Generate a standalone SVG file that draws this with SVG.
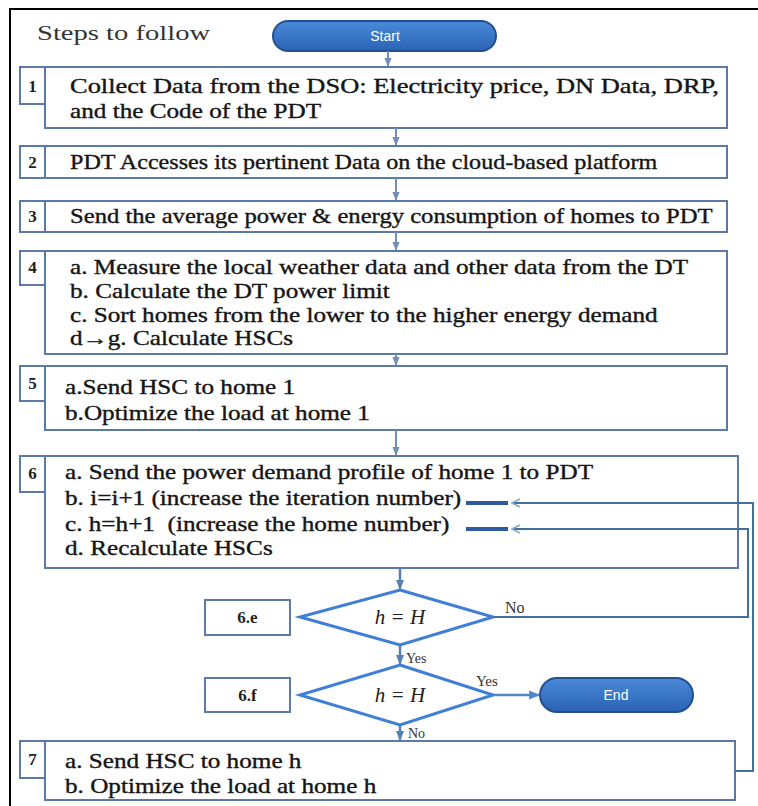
<svg xmlns="http://www.w3.org/2000/svg" width="758" height="806" viewBox="0 0 758 806">
<defs>
  <linearGradient id="pill" x1="0" y1="0" x2="0" y2="1">
    <stop offset="0" stop-color="#4a8ad8"/>
    <stop offset="1" stop-color="#2a62b4"/>
  </linearGradient>
  <marker id="ah" viewBox="0 0 10 10" refX="9" refY="5" markerWidth="9" markerHeight="9" markerUnits="userSpaceOnUse" orient="auto">
    <path d="M0,1 L10,5 L0,9 z" fill="#6f8fb4"/>
  </marker>
  <marker id="ahd" viewBox="0 0 10 10" refX="9" refY="5" markerWidth="10" markerHeight="10" markerUnits="userSpaceOnUse" orient="auto">
    <path d="M0,1 L10,5 L0,9 z" fill="#5a80ad"/>
  </marker>
  <marker id="ahe" viewBox="0 0 10 10" refX="9" refY="5" markerWidth="11" markerHeight="11" markerUnits="userSpaceOnUse" orient="auto">
    <path d="M0,1 L10,5 L0,9 z" fill="#4f86cc"/>
  </marker>
  <marker id="open" viewBox="0 0 10 10" refX="9" refY="5" markerWidth="10" markerHeight="10" markerUnits="userSpaceOnUse" orient="auto">
    <path d="M1,1 L9,5 L1,9" fill="none" stroke="#8aa6c8" stroke-width="1.6"/>
  </marker>
</defs>
<style>
  .box{fill:#ffffff;stroke:#5b79a9;stroke-width:2}
  .t{font-family:"Liberation Serif",serif;font-size:20px;fill:#151515;stroke:#151515;stroke-width:0.35}
  .n{font-family:"Liberation Serif",serif;font-size:17px;font-weight:bold;fill:#1e1e1e;text-anchor:middle}
  .c{fill:none;stroke:#6f8fb4;stroke-width:2}
  .cd{fill:none;stroke:#5a80ad;stroke-width:2.5}
  .loop{fill:none;stroke:#41709f;stroke-width:2}
  .thick{stroke:#2d5aa0;stroke-width:4}
  .dia{fill:#ffffff;stroke:#3f7fd6;stroke-width:3}
  .pill{fill:url(#pill);stroke:#24508f;stroke-width:2}
  .pt{font-family:"Liberation Sans",sans-serif;font-size:14px;fill:#ffffff;text-anchor:middle}
  .hh{font-family:"Liberation Serif",serif;font-size:21px;font-style:italic;fill:#222;text-anchor:middle}
  .lbl{font-family:"Liberation Serif",serif;fill:#333}
</style>
<rect x="0" y="0" width="758" height="806" fill="#ffffff"/>
<path d="M10 806 V9 H758" fill="none" stroke="#000" stroke-width="2"/>

<g id="title">
  <g transform="matrix(1.3 0 0 1 37 0)">
    <text x="0" y="40" font-family="Liberation Serif, serif" font-size="22" fill="#333">Steps to follow</text>
  </g>
</g>

<g id="start">
  <rect class="pill" x="273" y="21" width="223" height="30" rx="15"/>
  <text class="pt" x="385" y="41">Start</text>
</g>

<g id="step1">
  <rect class="box" x="45" y="67" width="682" height="61"/>
  <rect class="box" x="20" y="67" width="25" height="37"/>
  <text class="n" x="32.5" y="92">1</text>
  <g transform="matrix(1.26 0 0 1 70 0)">
    <text class="t" x="0" y="93" textLength="515" lengthAdjust="spacingAndGlyphs">Collect Data from the DSO: Electricity price, DN Data, DRP,</text>
    <text class="t" x="0" y="118">and the Code of the PDT</text>
  </g>
</g>

<g id="step2">
  <rect class="box" x="45" y="146" width="682" height="32"/>
  <rect class="box" x="20" y="146" width="25" height="32"/>
  <text class="n" x="32.5" y="168">2</text>
  <g transform="matrix(1.26 0 0 1 70 0)">
    <text class="t" x="0" y="169" textLength="466" lengthAdjust="spacingAndGlyphs">PDT Accesses its pertinent Data on the cloud-based platform</text>
  </g>
</g>

<g id="step3">
  <rect class="box" x="45" y="201" width="682" height="31"/>
  <rect class="box" x="20" y="201" width="25" height="31"/>
  <text class="n" x="32.5" y="222">3</text>
  <g transform="matrix(1.26 0 0 1 70 0)">
    <text class="t" x="0" y="223" textLength="510" lengthAdjust="spacingAndGlyphs">Send the average power &amp; energy consumption of homes to PDT</text>
  </g>
</g>

<g id="step4">
  <rect class="box" x="45" y="251" width="682" height="103"/>
  <rect class="box" x="20" y="251" width="25" height="34"/>
  <text class="n" x="32.5" y="273">4</text>
  <g transform="matrix(1.26 0 0 1 70 0)">
    <text class="t" x="0" y="274">a. Measure the local weather data and other data from the DT</text>
    <text class="t" x="0" y="298">b. Calculate the DT power limit</text>
    <text class="t" x="0" y="322">c. Sort homes from the lower to the higher energy demand</text>
    <text class="t" x="0" y="345">d→g. Calculate HSCs</text>
  </g>
</g>

<g id="step5">
  <rect class="box" x="45" y="366" width="682" height="64"/>
  <rect class="box" x="20" y="366" width="25" height="35"/>
  <text class="n" x="32.5" y="389">5</text>
  <g transform="matrix(1.26 0 0 1 65 0)">
    <text class="t" x="0" y="394">a.Send HSC to home 1</text>
    <text class="t" x="0" y="420">b.Optimize the load at home 1</text>
  </g>
</g>

<g id="step6">
  <rect class="box" x="45" y="456" width="693" height="112"/>
  <rect class="box" x="20" y="456" width="25" height="36"/>
  <text class="n" x="32.5" y="479">6</text>
  <g transform="matrix(1.26 0 0 1 65 0)">
    <text class="t" x="0" y="479">a. Send the power demand profile of home 1 to PDT</text>
    <text class="t" x="0" y="505">b. i=i+1 (increase the iteration number)</text>
    <text class="t" x="0" y="531" xml:space="preserve">c. h=h+1  (increase the home number)</text>
    <text class="t" x="0" y="555">d. Recalculate HSCs</text>
  </g>
</g>

<g id="box6e">
  <rect class="box" x="205" y="600" width="85" height="35"/>
  <text class="n" x="247.5" y="623">6.e</text>
</g>

<g id="dec1">
  <polygon class="dia" points="400,590 493,617 400,645 300,617"/>
  <text class="hh" x="400" y="624">h = H</text>
</g>

<g id="box6f">
  <rect class="box" x="205" y="678" width="85" height="34"/>
  <text class="n" x="247.5" y="701">6.f</text>
</g>

<g id="dec2">
  <polygon class="dia" points="400,665 493,695 400,725 300,695"/>
  <text class="hh" x="400" y="702">h = H</text>
</g>

<g id="end">
  <rect class="pill" x="540" y="678" width="153" height="34" rx="17"/>
  <text class="pt" x="616" y="700">End</text>
</g>

<g id="step7">
  <rect class="box" x="45" y="741" width="690" height="59"/>
  <rect class="box" x="20" y="741" width="25" height="37"/>
  <text class="n" x="32.5" y="765">7</text>
  <g transform="matrix(1.26 0 0 1 65 0)">
    <text class="t" x="0" y="768">a. Send HSC to home h</text>
    <text class="t" x="0" y="793">b. Optimize the load at home h</text>
  </g>
</g>

<g id="connectors">
  <line class="c" x1="388" y1="51" x2="388" y2="66" marker-end="url(#ah)"/>
  <line class="c" x1="396" y1="128" x2="396" y2="145" marker-end="url(#ah)"/>
  <line class="c" x1="396" y1="178" x2="396" y2="200" marker-end="url(#ah)"/>
  <line class="c" x1="396" y1="232" x2="396" y2="250" marker-end="url(#ah)"/>
  <line class="c" x1="396" y1="354" x2="396" y2="365" marker-end="url(#ah)"/>
  <line class="c" x1="396" y1="430" x2="396" y2="455" marker-end="url(#ah)"/>
  <line class="cd" x1="400" y1="568" x2="400" y2="589" marker-end="url(#ahd)"/>
  <line class="cd" x1="400" y1="645" x2="400" y2="664" marker-end="url(#ahd)"/>
  <line class="cd" x1="400" y1="725" x2="400" y2="740" marker-end="url(#ahd)"/>
  <line x1="493" y1="695" x2="539" y2="695" stroke="#4f86cc" stroke-width="2.5" marker-end="url(#ahe)"/>
  <path class="loop" d="M493 617 H748 V529 H512" marker-end="url(#open)"/>
  <line class="thick" x1="466" y1="529" x2="508" y2="529"/>
  <path class="loop" d="M735 771 H753 V503 H512" marker-end="url(#open)"/>
  <line class="thick" x1="466" y1="503" x2="508" y2="503"/>
  <text class="lbl" x="505" y="613" font-size="16">No</text>
  <text class="lbl" x="406" y="663" font-size="14">Yes</text>
  <text class="lbl" x="476" y="686" font-size="15">Yes</text>
  <text class="lbl" x="408" y="738" font-size="14">No</text>
</g>
</svg>
